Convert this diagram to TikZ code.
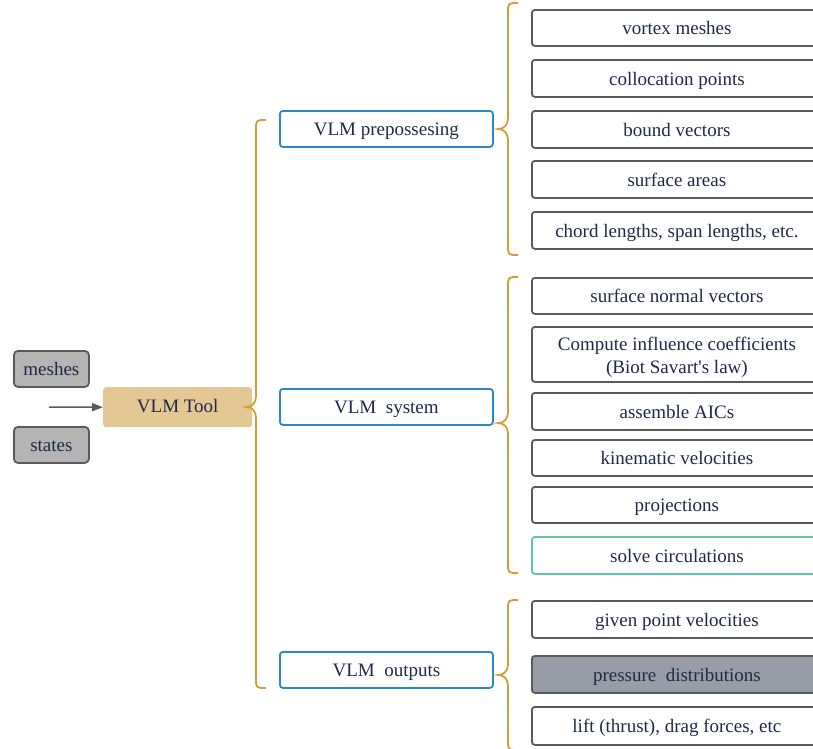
\documentclass[tikz,border=0pt]{standalone}
\usepackage{fontspec}
\setmainfont{Liberation Serif}
\usetikzlibrary{arrows.meta}
\definecolor{ink}{HTML}{1E2A4A}
\definecolor{leafline}{HTML}{5A5A5A}
\definecolor{midblue}{HTML}{2A88C8}
\definecolor{gold}{HTML}{D39B3A}
\definecolor{tan}{HTML}{E3C895}
\definecolor{inputgray}{HTML}{B4B4B4}
\definecolor{teal}{HTML}{5CC4B0}
\definecolor{slate}{HTML}{989CA6}
\tikzset{
  every node/.style={text=ink, font=\fontsize{19}{23}\selectfont, inner sep=0pt,
    text height=16pt, text depth=2pt},
  leaf/.style={draw=leafline, line width=1.8pt, rounded corners=3pt, fill=white,
    anchor=north west, minimum width=290pt, align=center},
  branch/.style={draw=midblue, line width=1.8pt, rounded corners=3pt, fill=white,
    anchor=north west, minimum width=213pt, minimum height=36pt},
  inbox/.style={draw=leafline, line width=1.8pt, rounded corners=4pt, fill=inputgray,
    anchor=north west, minimum width=75pt, minimum height=36pt},
  bracepath/.style={draw=gold, line width=1.8pt},
}
% curly brace opening to the right: vertical at x, tip at x-10, ends curl to x+10
\newcommand{\groupbrace}[4]{% x, top, tip y, bottom
  \draw[bracepath] (#1+10,#2) .. controls (#1,#2) .. (#1,#2+10)
    -- (#1,#3-11) .. controls (#1,#3-4) and (#1-4,#3) .. (#1-10,#3)
    .. controls (#1-4,#3) and (#1,#3+4) .. (#1,#3+11)
    -- (#1,#4-10) .. controls (#1,#4) .. (#1+10,#4);}
\begin{document}
\begin{tikzpicture}[x=1pt,y=-1pt]
\useasboundingbox (0,0) rectangle (813,748);

% inputs and tool
\node[inbox] (meshes) at (13,350) {meshes};
\node[inbox] (states) at (13,426) {states};
\node[fill=tan, rounded corners=3pt, anchor=north west, minimum width=149pt, minimum height=40pt,
  text height=14pt, text depth=4pt] (tool) at (103,387) {VLM Tool};
\coordinate (feed) at (49,407);
\draw[-{Triangle[length=11pt,width=8pt]}, draw=leafline, fill=leafline, line width=1.5pt] (feed) -- (tool.west);

% main brace and stages
\groupbrace{256}{120}{407}{688}
\node[branch, text height=15pt, text depth=2pt] (pre) at (279,110) {VLM prepossesing};
\node[branch] (sys) at (279,388) {VLM\ \ system};
\node[branch] (out) at (279,651) {VLM\ \ outputs};

% preprocessing items
\groupbrace{508}{3}{129}{255}
\node[leaf, minimum height=36pt] (v1) at (531,9) {vortex meshes};
\node[leaf, minimum height=37pt] (v2) at (531,59) {collocation points};
\node[leaf, minimum height=37pt] (v3) at (531,110) {bound vectors};
\node[leaf, minimum height=37pt] (v4) at (531,160) {surface areas};
\node[leaf, minimum height=37pt] (v5) at (531,211) {chord lengths, span lengths, etc.};

% system items
\groupbrace{508}{277}{423}{573}
\node[leaf, minimum height=36pt] (s1) at (531,277) {surface normal vectors};
\node[leaf, minimum height=55pt, text height=, text depth=] (s2) at (531,326)
  {\rule{0pt}{19pt}Compute influence coefficients\\(Biot Savart\textquotesingle s law)};
\node[leaf, minimum height=37pt] (s3) at (531,392) {assemble AICs};
\node[leaf, minimum height=36pt] (s4) at (531,439) {kinematic velocities};
\node[leaf, minimum height=36pt] (s5) at (531,486) {projections};
\node[leaf, draw=teal, minimum height=37pt] (s6) at (531,536) {solve circulations};

% output items
\groupbrace{508}{600}{675}{750}
\node[leaf, minimum height=37pt] (o1) at (531,600) {given point velocities};
\node[leaf, fill=slate, minimum height=37pt] (o2) at (531,655) {pressure\ \ distributions};
\node[leaf, minimum height=38pt] (o3) at (531,706) {lift (thrust), drag forces, etc};
\end{tikzpicture}
\end{document}
